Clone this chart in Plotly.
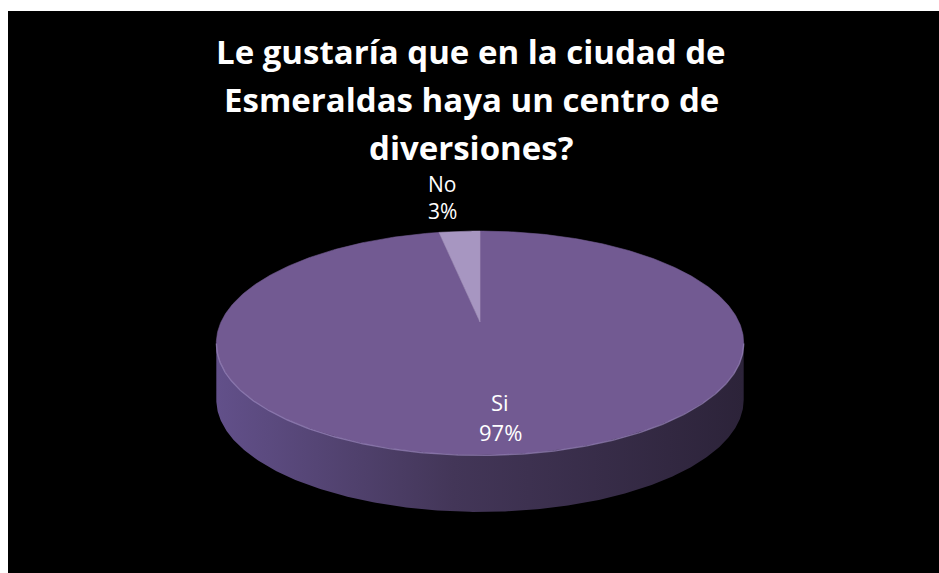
import numpy as np
import plotly.graph_objects as go

# Survey answers
categories = ["Si", "No"]
values = [97, 3]
title_lines = [
    "Le gustaría que en la ciudad de",
    "Esmeraldas haya un centro de",
    "diversiones?",
]

# Tilted disc geometry, in screen pixels (axes are set up as a pixel grid)
CX, CY = 480, 322
AX, BY = 259, 108
PERSP = 0.1875
DEPTH = 57

TOP_COLORS = {"Si": "#725a92", "No": "#a796c1"}
FONT = "Open Sans"


def project(theta):
    u, v = np.cos(theta), np.sin(theta)
    s = 1 + PERSP * v
    return CX + AX * u / s, CY - BY * v / s


fig = go.Figure()

# Side wall of the disc (front half, between the two silhouette points)
tl = np.pi + np.arcsin(PERSP)
tr = 2 * np.pi - np.arcsin(PERSP)
th = np.linspace(tl, tr, 300)
ex, ey = project(th)
side_x = np.concatenate([ex, ex[::-1]])
side_y = np.concatenate([ey, ey[::-1] + DEPTH])
fig.add_trace(go.Scatter(
    x=side_x, y=side_y, mode="lines", fill="toself",
    line=dict(width=0, color="rgba(0,0,0,0)"),
    fillgradient=dict(type="horizontal",
                      colorscale=[[0, "#62508a"], [0.45, "#433658"], [1, "#2c2339"]]),
    hoverinfo="skip", showlegend=False,
))

# Top face: one wedge per answer, clockwise from 12 o'clock
total = float(sum(values))
start = np.pi / 2
for cat, val in zip(categories, values):
    sweep = 2 * np.pi * val / total
    arc = np.linspace(start, start - sweep, max(int(600 * val / total), 12))
    axp, ayp = project(arc)
    wx = np.concatenate([[CX], axp, [CX]])
    wy = np.concatenate([[CY], ayp, [CY]])
    fig.add_trace(go.Scatter(
        x=wx, y=wy, mode="lines", fill="toself",
        fillcolor=TOP_COLORS[cat],
        line=dict(width=0.6, color=TOP_COLORS[cat]),
        name=cat, hoverinfo="skip", showlegend=False,
    ))
    start -= sweep

# Soft highlight on the front rim of the top face
hx, hy = project(np.linspace(tl, tr, 300))
fig.add_trace(go.Scatter(
    x=hx, y=hy + 0.5, mode="lines",
    line=dict(width=1.4, color="rgba(170,150,205,0.55)"),
    hoverinfo="skip", showlegend=False,
))

# Data labels
pct = [f"{round(100 * v / total)}%" for v in values]
label_pos = {"Si": (500, 402, 432), "No": (442, 184, 211)}
for cat, p in zip(categories, pct):
    lx, ly1, ly2 = label_pos[cat]
    size = 22 if cat == "Si" else 21
    for txt, ly in ((cat, ly1), (p, ly2)):
        fig.add_annotation(x=lx, y=ly, xref="x", yref="y", text=txt,
                           showarrow=False, xanchor="center", yanchor="middle",
                           borderpad=0,
                           font=dict(family=FONT, size=size, color="white"))

# Title
for line, ty in zip(title_lines, (51, 99, 147)):
    fig.add_annotation(x=471, y=ty, xref="x", yref="y", text=f"<b>{line}</b>",
                       showarrow=False, xanchor="center", yanchor="middle",
                       borderpad=0,
                       font=dict(family=FONT, size=33, color="white"))

fig.update_layout(
    width=939, height=573,
    margin=dict(l=8, r=0, t=11, b=0),
    paper_bgcolor="white",
    plot_bgcolor="black",
    xaxis=dict(range=[8, 939], visible=False, fixedrange=True),
    yaxis=dict(range=[573, 11], visible=False, fixedrange=True),
    showlegend=False,
)

fig.write_html("out.html")
